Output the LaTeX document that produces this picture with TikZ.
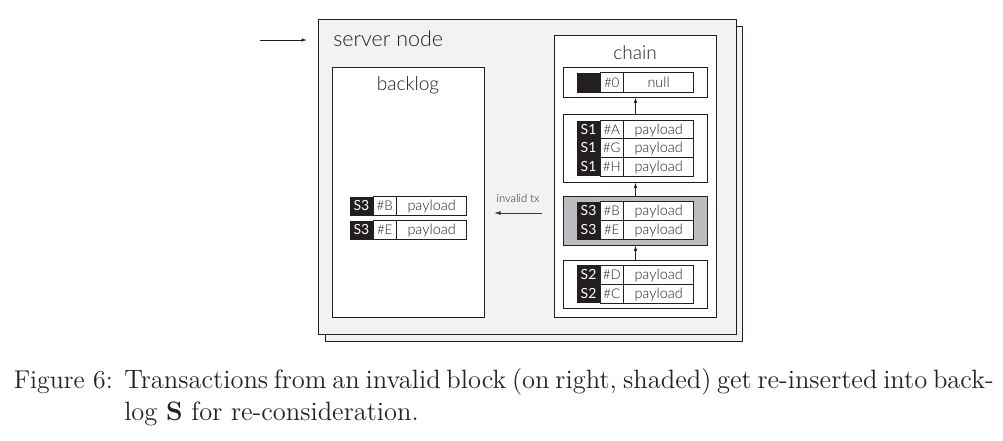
\documentclass[tikz,border=0pt]{standalone}
\usepackage{fontspec}
\newfontfamily\diagfont{Lato}
\newfontfamily\diaglight{Lato Light}
\newfontfamily\capfont{lmroman12-regular}[Extension=.otf,BoldFont=lmroman12-bold]
\definecolor{inkblack}{HTML}{231F20}
\definecolor{panelgrey}{HTML}{F2F2F2}
\definecolor{shade}{HTML}{BCBDC0}
\definecolor{captionink}{HTML}{222222}
\definecolor{softink}{HTML}{3A3A3A}
\usetikzlibrary{arrows.meta,positioning}
\tikzset{
  x=0.75pt,y=-0.75pt,
  panel/.style={draw=inkblack,line width=0.75pt,fill=panelgrey},
  box/.style={draw=inkblack,line width=0.75pt,fill=white},
  cellbase/.style={inner sep=0pt,outer sep=0pt,anchor=north west,font=\diaglight\fontsize{10.8}{12}\selectfont,
    text height=8pt,text depth=1pt,text=inkblack},
  sender/.style={cellbase,font=\diagfont\fontsize{10.5}{12}\selectfont,fill=inkblack,text=white,minimum width=17.25pt},
  txid/.style={cellbase,font=\diaglight\fontsize{10}{12}\selectfont,draw=inkblack,line width=0.75pt,fill=white,minimum width=17.6pt},
  load/.style={cellbase,draw=inkblack,line width=0.75pt,fill=white,minimum width=52.8pt},
  link/.style={-{Latex[length=4pt,width=2.6pt]},line width=0.6pt,draw=inkblack},
  title/.style={font=\diaglight\fontsize{14.3}{16}\selectfont,text=inkblack,inner sep=0pt},
  caption/.style={font=\capfont\fontsize{19.9}{23}\selectfont,text=captionink,inner sep=0pt,anchor=base west},
}
% \txrow{name}{x}{ytop}{height px}{sender}{id}{payload}
\newcommand{\txrow}[7]{%
  \node[sender,minimum height=#4*0.75pt] (#1s) at (#2,#3) {#5};
  \node[txid,minimum height=#4*0.75pt] (#1i) at (#2+23,#3) {#6};
  \node[load,minimum height=#4*0.75pt] (#1p) at (#2+46.4,#3) {#7};
}
\newcommand{\regionbox}[7]{% name, style, x1,y1,x2,y2
  \node[#2,inner sep=0pt,outer sep=0pt,anchor=north west,minimum width=(#5-#3)*0.75pt,minimum height=(#6-#4)*0.75pt] (#1) at (#3,#4) {#7};
}
\begin{document}
\begin{tikzpicture}
\useasboundingbox (0,0) rectangle (1003,440);
% server node panels
\regionbox{backpage}{panel}{325}{26.5}{742.5}{341.5}{}
\regionbox{server}{panel}{318.5}{19.5}{736}{334.5}{}
\node[title,font=\diaglight\fontsize{16.1}{18}\selectfont,anchor=west] (servertitle) at (333,39) {server node};
% backlog
\regionbox{backlog}{box}{332.5}{67.5}{484.5}{317.5}{}
\node[title] (backlogtitle) at (408,85) {backlog};
\txrow{bb}{350}{196.5}{19}{S3}{\#B}{payload}
\txrow{be}{350}{220.5}{19}{S3}{\#E}{payload}
% chain
\regionbox{chain}{box}{554.5}{35.5}{716.5}{317.5}{}
\node[title] (chaintitle) at (635,53) {chain};
\regionbox{blockzero}{box}{563.5}{67.5}{707.5}{97.5}{}
\regionbox{blockone}{box}{563.5}{114.5}{707.5}{182.5}{}
\regionbox{blockthree}{box,fill=shade}{563.5}{196.5}{707.5}{245.5}{}
\regionbox{blocktwo}{box}{563.5}{260.5}{707.5}{308.5}{}
\txrow{z}{577}{72.5}{20}{}{\#0}{null}
\txrow{a}{577}{120.5}{18.3}{S1}{\#A}{payload}
\txrow{g}{577}{138.8}{18.6}{S1}{\#G}{payload}
\txrow{h}{577}{157.4}{19}{S1}{\#H}{payload}
\txrow{b}{577}{201.7}{19}{S3}{\#B}{payload}
\txrow{e}{577}{220.7}{19}{S3}{\#E}{payload}
\txrow{d}{577}{265.3}{19}{S2}{\#D}{payload}
\txrow{c}{577}{284.3}{19}{S2}{\#C}{payload}
% chain links
\draw[link] (blockone.north) -- (blockzero.south);
\draw[link] (blockthree.north) -- (blockone.south);
\draw[link] (blocktwo.north) -- (blockthree.south);
% free arrows
\coordinate (incomingstart) at (260,40);
\coordinate (incomingend) at (307,40);
\draw[link] (incomingstart) -- (incomingend);
\coordinate (invalidstart) at (542,213);
\coordinate (invalidend) at (494,213);
\draw[link,draw=softink,-{Latex[length=5pt,width=3pt]}] (invalidstart) -- (invalidend);
\node[inner sep=0pt,font=\diaglight\fontsize{8.4}{10}\selectfont,text=inkblack] (invalidlabel) at (518,198) {invalid tx};
% caption
\node[caption,font=\capfont\fontsize{19.3}{23}\selectfont] (figlabel) at (13.5,388) {Figure 6:};
\node[caption] (capone) at (124,388) {\makebox[651.5pt][s]{Transactions from an invalid block (on right, shaded) get re-inserted into back-}};
\node[caption] (captwo) at (124,420.5) {log \textbf{S} for re-consideration.};
\end{tikzpicture}
\end{document}
